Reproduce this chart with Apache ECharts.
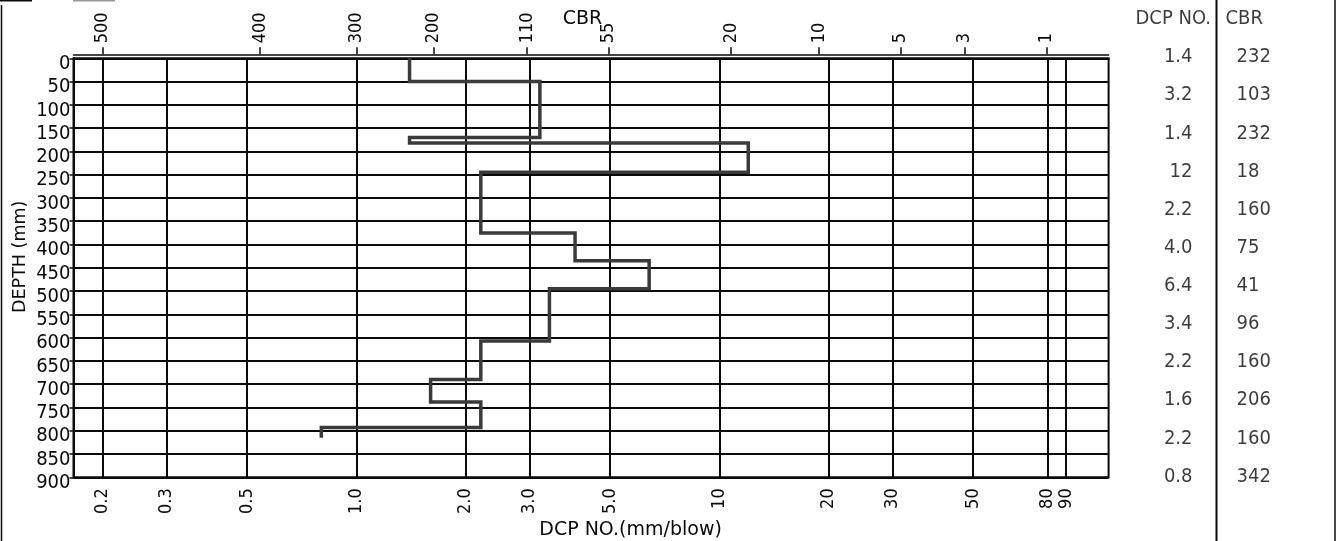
<!DOCTYPE html>
<html><head><meta charset="utf-8">
<script src="https://cdn.jsdelivr.net/npm/echarts@6/dist/echarts.min.js"></script>
<style>html,body{margin:0;padding:0;background:#fff;} #c{width:1337px;height:541px;}</style>
</head><body><div id="c"></div>
<script>
// ---- data ----
const dcpTicks = [0.2, 0.3, 0.5, 1, 2, 3, 5, 10, 20, 30, 50, 80, 90];
const dcpTickLabels = ['0.2', '0.3', '0.5', '1.0', '2.0', '3.0', '5.0', '10', '20', '30', '50', '80', '90'];
const cbrTickPos = [0.2, 0.542, 1.0, 1.628, 2.95, 4.95, 10.76, 18.8, 31.5, 47.3, 79.5];
const cbrTickLabels = ['500', '400', '300', '200', '110', '55', '20', '10', '5', '3', '1'];
const depthTicks = [0, 50, 100, 150, 200, 250, 300, 350, 400, 450, 500, 550, 600, 650, 700, 750, 800, 850, 900];
const layerDcp = [1.4, 3.2, 1.4, 12, 2.2, 4.0, 6.4, 3.4, 2.2, 1.6, 2.2, 0.8];
const layerBounds = [0, 50, 170, 182, 245, 375, 435, 495, 607, 690, 738, 793, 815];
const tableHeader = ['DCP NO.', 'CBR'];
const tableDcp = ['1.4', '3.2', '1.4', '12', '2.2', '4.0', '6.4', '3.4', '2.2', '1.6', '2.2', '0.8'];
const tableCbr = ['232', '103', '232', '18', '160', '75', '41', '96', '160', '206', '160', '342'];

const FONT = '"DejaVu Sans Condensed", "DejaVu Sans", sans-serif';
const FONT_R = '"DejaVu Sans", sans-serif';
const INK = '#0a0a0a';

function lookup(vals, labels) {
  return function (v) {
    for (let i = 0; i < vals.length; i++) {
      if (Math.abs(vals[i] - v) / vals[i] < 1e-4) return labels[i];
    }
    return '';
  };
}

// step profile points
const profile = [];
for (let i = 0; i < layerDcp.length; i++) {
  profile.push([layerDcp[i], layerBounds[i]]);
  profile.push([layerDcp[i], layerBounds[i + 1]]);
}

// table items
const rowCats = ['h'].concat(tableDcp.map((_, i) => 'r' + i));
const tableItems = [
  { value: [0, 0], text: tableHeader[0], label: { offset: [18.5, 0] } },
  { value: [1, 0], text: tableHeader[1], label: { position: 'right', offset: [-11, 0] } }
];
tableDcp.forEach((d, i) => {
  tableItems.push({ value: [0, i + 1], text: d });
  tableItems.push({ value: [1, i + 1], text: tableCbr[i], label: { position: 'right' } });
});

const chart = echarts.init(document.getElementById('c'), null, { renderer: 'canvas' });
chart.setOption({
  animation: false,
  backgroundColor: '#fff',
  textStyle: { fontFamily: FONT, color: INK },
  grid: [
    { left: 73.5, right: 228.4, top: 58.3, bottom: 63.7, show: true, borderColor: INK, borderWidth: 2, backgroundColor: 'transparent', containLabel: false, outerBoundsMode: 'none' },
    { left: 1193, right: 101, top: 0, height: 495.5, containLabel: false, outerBoundsMode: 'none' }
  ],
  xAxis: [
    {
      gridIndex: 0, type: 'log', logBase: 10, position: 'bottom', min: 0.1661, max: 118,
      name: 'DCP NO.(mm/blow)', nameLocation: 'middle', nameGap: 43, nameMoveOverlap: false,
      nameTextStyle: { fontFamily: FONT_R, fontSize: 19, color: INK, padding: [0, 0, 0, 79] },
      axisLine: { show: true, lineStyle: { color: INK, width: 2 } },
      axisTick: { show: true, customValues: dcpTicks, length: 4, lineStyle: { color: INK, width: 1.5 } },
      axisLabel: { customValues: dcpTicks, rotate: 90, margin: 11, fontFamily: FONT, fontSize: 18, color: INK, formatter: lookup(dcpTicks, dcpTickLabels) },
      splitLine: { show: false }, minorTick: { show: false }, minorSplitLine: { show: false }
    },
    {
      gridIndex: 0, type: 'log', logBase: 10, position: 'top', offset: 4, min: 0.1661, max: 118,
      name: 'CBR', nameLocation: 'middle', nameGap: 26, nameMoveOverlap: false,
      nameTextStyle: { fontFamily: FONT_R, fontSize: 19, color: INK, padding: [0, 17, 0, 0] },
      axisLine: { show: true, lineStyle: { color: INK, width: 1.5 } },
      axisTick: { show: true, customValues: cbrTickPos, length: 7, lineStyle: { color: INK, width: 1.5 } },
      axisLabel: { customValues: cbrTickPos, rotate: -90, margin: 11, fontFamily: FONT, fontSize: 18, color: INK, formatter: lookup(cbrTickPos, cbrTickLabels) },
      splitLine: { show: false }
    },
    { gridIndex: 1, type: 'value', min: 0, max: 1, show: false }
  ],
  yAxis: [
    {
      gridIndex: 0, type: 'value', inverse: true, min: 0, max: 900, interval: 50,
      name: 'DEPTH (mm)', nameLocation: 'middle', nameRotate: 90, nameGap: 44, nameMoveOverlap: false,
      nameTextStyle: { fontFamily: FONT_R, fontSize: 17.5, color: INK, padding: [0, 0, 0, 22] },
      axisLine: { show: true, lineStyle: { color: INK, width: 2 } },
      axisTick: { show: true, customValues: depthTicks, length: 4, lineStyle: { color: INK, width: 1.5 } },
      axisLabel: { customValues: depthTicks, margin: 3, fontFamily: FONT, fontSize: 20, color: INK, verticalAlign: 'top', lineHeight: 11 },
      splitLine: { show: true, lineStyle: { color: INK, width: 2 } }
    },
    { gridIndex: 1, type: 'category', inverse: true, data: rowCats, show: false, boundaryGap: true }
  ],
  graphic: [
    { type: 'line', shape: { x1: 1.5, y1: 5, x2: 1.5, y2: 541 }, style: { stroke: INK, lineWidth: 1.5 } },
    { type: 'line', shape: { x1: 0, y1: 0.5, x2: 32, y2: 0.5 }, style: { stroke: INK, lineWidth: 2 } },
    { type: 'line', shape: { x1: 73, y1: 0.5, x2: 115, y2: 0.5 }, style: { stroke: '#999', lineWidth: 2 } },
    { type: 'line', shape: { x1: 1216.5, y1: 0, x2: 1216.5, y2: 541 }, style: { stroke: INK, lineWidth: 2 } },
    { type: 'line', shape: { x1: 1335, y1: 0, x2: 1335, y2: 541 }, style: { stroke: INK, lineWidth: 1.5 } }
  ],
  series: [
    {
      type: 'line', xAxisIndex: 0, yAxisIndex: 0, data: [], z: 1, silent: true,
      markLine: {
        silent: true, symbol: ['none', 'none'], label: { show: false },
        lineStyle: { color: INK, width: 2, type: 'solid' },
        data: dcpTicks.map(v => ({ xAxis: v }))
      }
    },
    {
      type: 'line', xAxisIndex: 0, yAxisIndex: 0, data: profile, z: 5,
      showSymbol: false, symbol: 'none',
      lineStyle: { color: '#3a3a3a', width: 3.5, join: 'miter', cap: 'butt' }
    },
    {
      type: 'scatter', xAxisIndex: 2, yAxisIndex: 1, data: tableItems, symbolSize: 1,
      itemStyle: { color: 'rgba(0,0,0,0)' }, silent: true,
      label: {
        show: true, position: 'left', distance: 0, fontFamily: FONT, fontSize: 20, color: INK,
        formatter: p => p.data.text
      }
    }
  ]
});
</script>
</body></html>
